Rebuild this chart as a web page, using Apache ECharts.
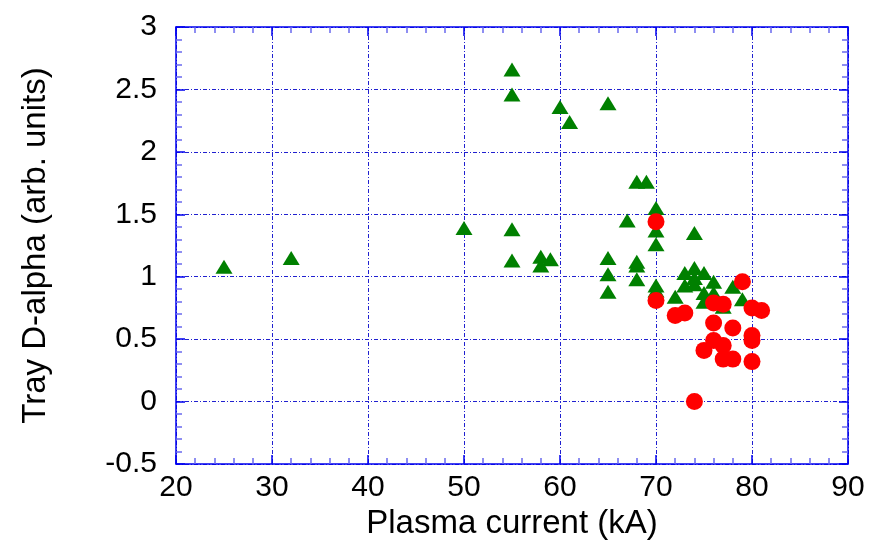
<!DOCTYPE html>
<html>
<head>
<meta charset="utf-8">
<script src="https://cdn.jsdelivr.net/npm/echarts@6/dist/echarts.min.js"></script>
<style>html,body{margin:0;padding:0;background:#fff}#c{width:871px;height:550px}</style>
</head>
<body>
<div id="c"></div>
<script>
const xTicks = [20, 30, 40, 50, 60, 70, 80, 90];
const yTicks = [-0.5, 0, 0.5, 1, 1.5, 2, 2.5, 3];
const triangleX = [25, 32, 55, 55, 60, 61, 65, 50, 55, 55, 58, 58, 59, 68, 69, 70, 67, 70, 70, 65, 65, 65, 68, 68, 68, 74, 70, 70, 73, 74, 75, 74, 76, 73, 74, 78, 72, 75, 76, 75, 79, 77];
const triangleY = [1.08, 1.15, 2.66, 2.46, 2.36, 2.24, 2.39, 1.39, 1.38, 1.13, 1.16, 1.09, 1.14, 1.76, 1.76, 1.55, 1.45, 1.37, 1.26, 1.15, 1.02, 0.88, 1.12, 1.09, 0.98, 1.35, 0.93, 0.89, 1.03, 1.07, 1.03, 0.99, 0.96, 0.93, 0.94, 0.92, 0.84, 0.87, 0.87, 0.80, 0.82, 0.76];
const circleX = [70, 70, 79, 76, 77, 80, 81, 72, 73, 76, 78, 80, 80, 76, 77, 75, 77, 78, 80, 74];
const circleY = [1.44, 0.81, 0.96, 0.79, 0.78, 0.75, 0.73, 0.69, 0.71, 0.63, 0.59, 0.53, 0.49, 0.49, 0.45, 0.41, 0.34, 0.34, 0.32, 0.00];

const FONT = 'Liberation Sans, Arial, sans-serif';
const BLUE = '#0000ee';
const gridLine = { show: true, lineStyle: { color: '#2020d0', width: 1, type: [4, 2, 1, 2] } };

function axisCommon(showLabel) {
  return {
    axisLine: { show: true, onZero: false, lineStyle: { color: BLUE, width: 1.5 } },
    axisTick: { show: true, inside: true, length: 9, lineStyle: { color: BLUE, width: 1.5 } },
    minorTick: { show: true, splitNumber: 5, length: 6, lineStyle: { color: '#6a6aee', width: 1.5 } },
    axisLabel: { show: showLabel, color: '#000', fontFamily: FONT, fontSize: 30, margin: 9 },
  };
}

const chart = echarts.init(document.getElementById('c'), null, { renderer: 'canvas' });
chart.setOption({
  animation: false,
  backgroundColor: '#fff',
  grid: { left: 176, right: 23, top: 27, bottom: 86, containLabel: false },
  xAxis: [
    Object.assign(axisCommon(true), {
      type: 'value', position: 'bottom', min: xTicks[0], max: xTicks[xTicks.length - 1], interval: 10,
      name: 'Plasma current (kA)', nameLocation: 'middle', nameGap: 41,
      nameTextStyle: { color: '#000', fontFamily: FONT, fontSize: 33 },
      splitLine: gridLine,
    }),
    Object.assign(axisCommon(false), {
      type: 'value', position: 'top', min: xTicks[0], max: xTicks[xTicks.length - 1], interval: 10,
      splitLine: { show: false },
    }),
  ],
  yAxis: [
    Object.assign(axisCommon(true), {
      type: 'value', position: 'left', min: yTicks[0], max: yTicks[yTicks.length - 1], interval: 0.5,
      name: 'Tray D-alpha (arb. units)', nameLocation: 'middle', nameGap: 124, nameRotate: 90,
      nameTextStyle: { color: '#000', fontFamily: FONT, fontSize: 33 },
      axisLabel: { show: true, color: '#000', fontFamily: FONT, fontSize: 30, margin: 19 },
      splitLine: gridLine,
    }),
    Object.assign(axisCommon(false), {
      type: 'value', position: 'right', min: yTicks[0], max: yTicks[yTicks.length - 1], interval: 0.5,
      splitLine: { show: false },
    }),
  ],
  series: [
    {
      type: 'scatter', xAxisIndex: 0, yAxisIndex: 0,
      symbol: 'triangle', symbolSize: [17, 14],
      itemStyle: { color: '#008000', opacity: 1 },
      data: triangleX.map((x, i) => [x, triangleY[i]]),
      z: 3,
    },
    {
      type: 'scatter', xAxisIndex: 0, yAxisIndex: 0,
      symbol: 'circle', symbolSize: 17,
      itemStyle: { color: '#ff0000', opacity: 1 },
      data: circleX.map((x, i) => [x, circleY[i]]),
      z: 4,
    },
  ],
});
</script>
</body>
</html>
